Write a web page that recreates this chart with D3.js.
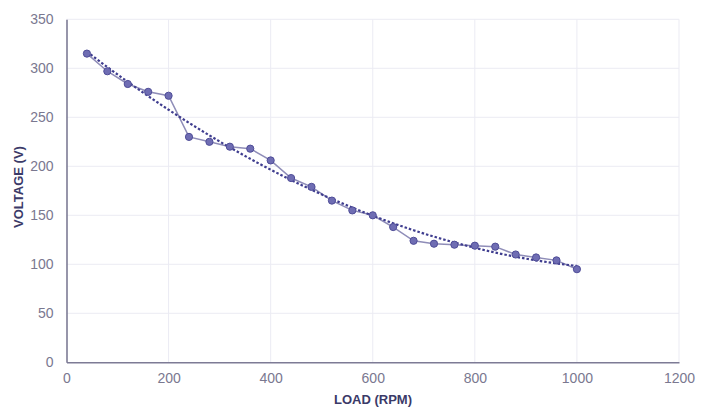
<!DOCTYPE html>
<html>
<head>
<meta charset="utf-8">
<script src="https://cdn.jsdelivr.net/npm/d3@7"></script>
<style>
  body { margin: 0; background: #fff; }
  svg { display: block; font-family: "Liberation Sans", Arial, sans-serif; }
</style>
</head>
<body>
<svg id="chart" width="711" height="407"></svg>
<script>
// load (rpm) and measured voltage (V)
var loads = [40, 80, 120, 160, 200, 240, 280, 320, 360, 400, 440, 480, 520,
             560, 600, 640, 680, 720, 760, 800, 840, 880, 920, 960, 1000];
var voltages = [315, 297, 284, 276, 272, 230, 225, 220, 218, 206, 188, 179, 165,
                155, 150, 138, 124, 121, 120, 119, 118, 110, 107, 104, 95];
var xTicks = [0, 200, 400, 600, 800, 1000, 1200];
var yTicks = [0, 50, 100, 150, 200, 250, 300, 350];

var svg = d3.select('#chart');
var margin = {left: 66.5, right: 32, top: 19.3, bottom: 44.7};
var W = 711, H = 407;

var x = d3.scaleLinear().domain([0, 1200]).range([margin.left, W - margin.right]);
var y = d3.scaleLinear().domain([0, 350]).range([H - margin.bottom, margin.top]);

// grid
svg.append('g').selectAll('line.gx')
    .data(xTicks.slice(1))
    .enter().append('line')
    .attr('x1', function(d){ return x(d); })
    .attr('x2', function(d){ return x(d); })
    .attr('y1', y(0)).attr('y2', y(350))
    .attr('stroke', '#ebebf3').attr('stroke-width', 1);
svg.append('g').selectAll('line.gy')
    .data(yTicks.slice(1))
    .enter().append('line')
    .attr('x1', x(0)).attr('x2', x(1200))
    .attr('y1', function(d){ return y(d); })
    .attr('y2', function(d){ return y(d); })
    .attr('stroke', '#ebebf3').attr('stroke-width', 1);

// axes
var xAxis = svg.append('g')
    .attr('transform', 'translate(0,' + y(0) + ')')
    .call(d3.axisBottom(x).tickValues(xTicks).tickFormat(d3.format('d')).tickSize(0).tickPadding(11));
var yAxis = svg.append('g')
    .attr('transform', 'translate(' + x(0) + ',0)')
    .call(d3.axisLeft(y).tickValues(yTicks).tickFormat(d3.format('d')).tickSize(0).tickPadding(13));
[xAxis, yAxis].forEach(function(a){
    a.select('.domain').attr('stroke', '#7d7b95').attr('stroke-width', 1.6);
    a.selectAll('text').attr('fill', '#7a7890').style('font-size', '14px');
});

// titles
svg.append('text')
    .attr('x', 373).attr('y', 404)
    .attr('text-anchor', 'middle')
    .attr('fill', '#3b3a68')
    .style('font-size', '13px').style('font-weight', 'bold')
    .text('LOAD (RPM)');
svg.append('text')
    .attr('transform', 'translate(23,187) rotate(-90)')
    .attr('text-anchor', 'middle')
    .attr('fill', '#3b3a68')
    .style('font-size', '13px').style('font-weight', 'bold')
    .text('VOLTAGE (V)');

var pts = loads.map(function(d, i){ return {x: d, y: voltages[i]}; });

// data line
svg.append('path')
    .datum(pts)
    .attr('fill', 'none')
    .attr('stroke', '#8f8db8')
    .attr('stroke-width', 1.5)
    .attr('d', d3.line().x(function(d){ return x(d.x); }).y(function(d){ return y(d.y); }));

// polynomial (order 2) trendline fitted from the data
function quadFit(xs, ys){
    var n = xs.length, s = [0,0,0,0,0], t = [0,0,0];
    for(var i = 0; i < n; i++){
        var p = 1;
        for(var k = 0; k < 5; k++){ s[k] += p; if(k < 3) t[k] += p * ys[i]; p *= xs[i]; }
    }
    var A = [[s[0], s[1], s[2], t[0]], [s[1], s[2], s[3], t[1]], [s[2], s[3], s[4], t[2]]];
    for(var c = 0; c < 3; c++){
        for(var r = c + 1; r < 3; r++){
            var f = A[r][c] / A[c][c];
            for(var k2 = c; k2 < 4; k2++) A[r][k2] -= f * A[c][k2];
        }
    }
    var b = [0,0,0];
    for(var r2 = 2; r2 >= 0; r2--){
        var v = A[r2][3];
        for(var k3 = r2 + 1; k3 < 3; k3++) v -= A[r2][k3] * b[k3];
        b[r2] = v / A[r2][r2];
    }
    return b;
}
var coef = quadFit(loads, voltages);
var trend = loads.map(function(d){ return {x: d, y: coef[0] + coef[1]*d + coef[2]*d*d}; });
svg.append('path')
    .datum(trend)
    .attr('fill', 'none')
    .attr('stroke', '#3f3d8f')
    .attr('stroke-width', 2.2)
    .attr('stroke-dasharray', '2.5,2')
    .attr('d', d3.line().curve(d3.curveMonotoneX)
        .x(function(d){ return x(d.x); }).y(function(d){ return y(d.y); }));

// markers
svg.append('g').selectAll('circle')
    .data(pts)
    .enter().append('circle')
    .attr('cx', function(d){ return x(d.x); })
    .attr('cy', function(d){ return y(d.y); })
    .attr('r', 3.6)
    .attr('fill', '#6f6db3')
    .attr('stroke', '#4f4d98')
    .attr('stroke-width', 1);
</script>
</body>
</html>
